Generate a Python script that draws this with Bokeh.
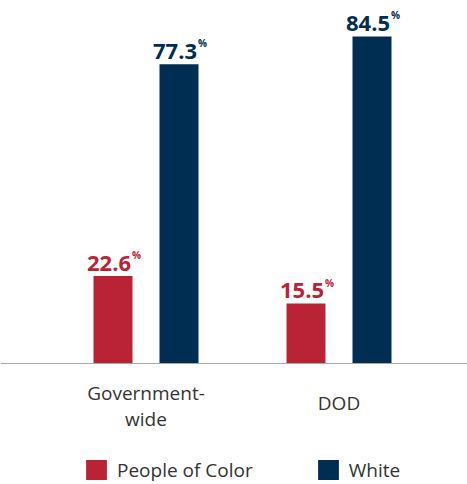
from bokeh.plotting import figure
from bokeh.models import ColumnDataSource, Span, Legend, LegendItem, Range1d
from bokeh.core.properties import value
from bokeh.transform import dodge
from bokeh.embed import file_html
from bokeh.resources import INLINE

# ---- data ----
categories = ["Government-\nwide", "DOD"]
people_of_color = [22.6, 15.5]
white = [77.3, 84.5]
series_names = ["People of Color", "White"]
colors = ["#BA2236", "#002E52"]

FONT = "Open Sans"
W, H = 467, 484
PX_PER_UNIT = 3.87
BASE_Y = 363  # baseline position from top of figure (px)

xs = list(range(len(categories)))
src = ColumnDataSource(dict(
    x=xs,
    poc=people_of_color,
    wht=white,
    poc_label=[f"{v:.1f}" for v in people_of_color],
    wht_label=[f"{v:.1f}" for v in white],
))

x_start = (0 - 145.5) / 193
x_end = (W - 145.5) / 193
p = figure(width=W, height=H, output_backend="svg", toolbar_location=None,
           x_range=Range1d(x_start, x_end),
           y_range=Range1d(-(H - BASE_Y) / PX_PER_UNIT, BASE_Y / PX_PER_UNIT),
           min_border=0, min_border_left=0, min_border_right=0,
           min_border_top=0, min_border_bottom=0)
p.axis.visible = False
p.grid.visible = False
p.outline_line_color = None
p.background_fill_color = "white"
p.border_fill_color = "white"

OFF = 0.171
BW = 0.202

r0 = p.vbar(x=dodge("x", -OFF, range=p.x_range), top="poc", bottom=0, width=BW,
            source=src, fill_color=colors[0], line_color=None)
r1 = p.vbar(x=dodge("x", OFF, range=p.x_range), top="wht", bottom=0, width=BW,
            source=src, fill_color=colors[1], line_color=None)

p.add_layout(Span(location=0, dimension="width", line_color="#A8A8A8", line_width=1))

# value labels
for col, lab, off, c in [("poc", "poc_label", -OFF, colors[0]), ("wht", "wht_label", OFF, colors[1])]:
    p.text(x=dodge("x", off, range=p.x_range), y=col, text=lab, source=src,
           text_align="right", text_baseline="alphabetic", x_offset=18, y_offset=-13,
           text_font=value(FONT), text_font_style="bold", text_font_size="22px",
           text_color=c)
    p.text(x=dodge("x", off, range=p.x_range), y=col, text=value("%"), source=src,
           text_align="left", text_baseline="alphabetic", x_offset=19, y_offset=-21,
           text_font=value(FONT), text_font_style="bold", text_font_size="10px",
           text_color=c)

# category labels
cat0 = ColumnDataSource(dict(x=[xs[0]], y=[0], t=[categories[0]]))
cat1 = ColumnDataSource(dict(x=[xs[1]], y=[0], t=[categories[1]]))
p.text(x="x", y="y", text="t", source=cat0, text_align="center", text_baseline="top",
       y_offset=16, text_line_height=1.03, text_font=value(FONT), text_font_size="19px",
       text_color="#333333")
p.text(x="x", y="y", text="t", source=cat1, text_align="center", text_baseline="top",
       y_offset=26, text_line_height=1.03, text_font=value(FONT), text_font_size="19px",
       text_color="#333333")

# legend
legend = Legend(items=[LegendItem(label=series_names[0], renderers=[r0]),
                       LegendItem(label=series_names[1], renderers=[r1])],
                location=(83, 1.5), orientation="horizontal",
                glyph_width=26, glyph_height=25, label_standoff=8, spacing=62,
                padding=0, margin=0, border_line_color=None,
                background_fill_alpha=0,
                label_text_font=FONT, label_text_font_size="19px",
                label_text_color="#333333")
p.add_layout(legend)

open("out.html", "w").write(file_html(p, INLINE))
